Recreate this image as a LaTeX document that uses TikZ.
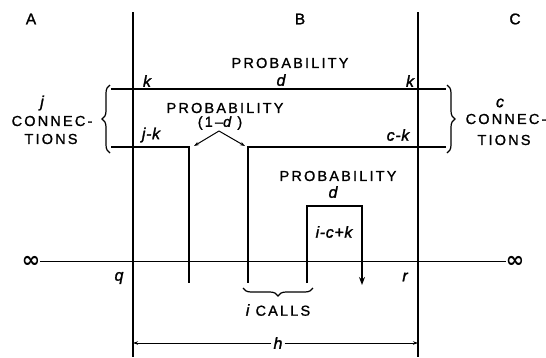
\documentclass[tikz,border=0pt]{standalone}
\usepackage{fontspec}
\setmainfont{Liberation Sans}
\newfontfamily\lbl[LetterSpace=15,FakeBold=1.2]{Liberation Sans}
\newfontfamily\lblit[LetterSpace=4,FakeBold=1.5]{Liberation Sans Italic}
\newfontfamily\symf{DejaVu Sans Bold}
\usetikzlibrary{decorations.pathreplacing,arrows.meta}
\begin{document}
\begin{tikzpicture}[x=1pt,y=-1pt,
  captxt/.style={font=\lbl\fontsize{14.5}{16}\selectfont, inner sep=0pt},
  bigtxt/.style={font=\lbl\fontsize{15.5}{17}\selectfont, inner sep=0pt},
  itl/.style={font=\lblit\fontsize{16}{17}\selectfont, inner sep=0pt},
  inf/.style={font=\symf\fontsize{22}{22}\selectfont, inner sep=0pt},
  wire/.style={line width=1.8pt},
  border/.style={line width=1.2pt},
  bracestyle/.style={line width=1.2pt, decorate, decoration={brace, amplitude=8pt}},
  tip/.style={-{Stealth[length=5pt,width=3.5pt]}}
]
\useasboundingbox (0,0) rectangle (546,357);
% zone labels
\node[bigtxt] (A) at (31,19) {A};
\node[bigtxt] (B) at (300,19) {B};
\node[bigtxt] (C) at (515,19) {C};
% boundaries
\coordinate (qT) at (133,12); \coordinate (qB) at (133,357);
\coordinate (rT) at (418,12); \coordinate (rB) at (418,357);
\draw[border] (qT) -- (qB);
\draw[border] (rT) -- (rB);
% axis
\node[inf] (infL) at (31,261.5) {∞};
\node[inf] (infR) at (515,261.5) {∞};
\draw[line width=1.7pt] (infL.east) -- (infR.west);
% top wire
\coordinate (tL) at (111,89); \coordinate (tR) at (446,89);
\draw[line width=2pt] (tL) -- (tR);
% lower wires
\coordinate (lL) at (111,147); \coordinate (lC) at (189,147); \coordinate (lD) at (189,283);
\coordinate (rR) at (446,147); \coordinate (rC) at (248,147); \coordinate (rD) at (248,283);
\draw[wire] (lL) -- (lC) -- (lD);
\draw[wire] (rR) -- (rC) -- (rD);
% box
\coordinate (bD) at (307,283); \coordinate (bTL) at (307,206);
\coordinate (bTR) at (362,206); \coordinate (bA) at (362,285);
\draw[wire] (bD) -- (bTL) -- (bTR) -- (362,272);
\draw[-{Stealth[length=8pt,width=6pt]}, line width=1.6pt] (362,270) -- (bA);
% braces
\draw[bracestyle] (110,153) -- (110,85);
\draw[bracestyle] (447,85) -- (447,153);
\draw[bracestyle] (313,288) -- (243,288);
% labels
\node[captxt] (p1) at (290,63) {PROBABILITY};
\node[itl] (d1) at (281,80) {d};
\node[itl] (k1) at (147,81) {k};
\node[itl] (k2) at (410,81) {k};
\node[captxt] (p2) at (225,108) {PROBABILITY};
\node[captxt] (om) at (220,123) {(1–{\lblit d} )};
\node[itl] (jk) at (151,135) {j-k};
\node[itl] (ck) at (398,135) {c-k};
\node[captxt] (p3) at (338,176) {PROBABILITY};
\node[itl] (d2) at (333,192) {d};
\node[itl] (icK) at (334,232) {i-c+k};
\node[itl] (jl) at (42,103) {j};
\node[captxt] (cn1) at (52,121) {CONNEC-};
\node[captxt] (ti1) at (51,139) {TIONS};
\node[itl] (cl) at (500,103) {c};
\node[captxt] (cn2) at (506,119) {CONNEC-};
\node[captxt] (ti2) at (504,140) {TIONS};
\node[itl] (q) at (119,278) {q};
\node[itl] (r) at (405,277) {r};
\node[captxt] (calls) at (278,310) {{\lblit\fontsize{16}{17}\selectfont i} CALLS};
\node[itl, fill=white, inner xsep=2pt] (h) at (278,343) {h};
% (1-d) arrows
\coordinate (apex) at (219,131);
\coordinate (aL) at (194,146); \coordinate (aR) at (245,146);
\draw[tip, line width=1pt] (apex) -- (aL);
\draw[tip, line width=1pt] (apex) -- (aR);
% h dimension
\coordinate (hL) at (133,343); \coordinate (hR) at (418,343);
\draw[tip, line width=0.8pt] (h.west) -- (hL);
\draw[tip, line width=0.8pt] (h.east) -- (hR);
\end{tikzpicture}
\end{document}
